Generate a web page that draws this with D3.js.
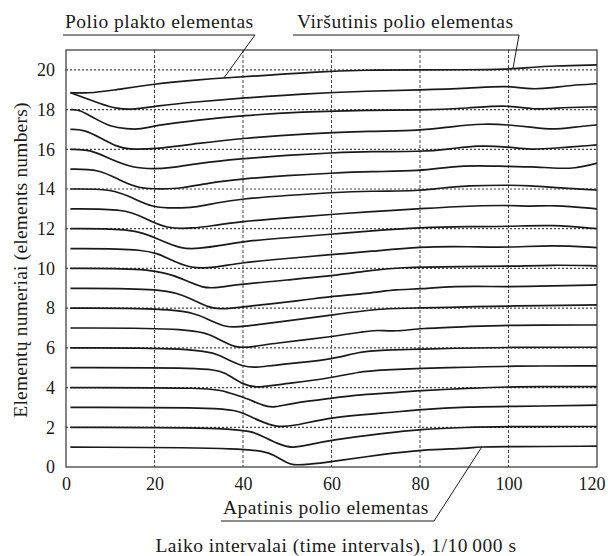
<!DOCTYPE html>
<html>
<head>
<meta charset="utf-8">
<script src="https://cdn.jsdelivr.net/npm/d3@7"></script>
<style>
  body { margin: 0; background: #fff; }
  text { font-family: "Liberation Serif", "Times New Roman", serif; fill: #1a1a1a; }
</style>
</head>
<body>
<div class="chart"></div>
<script>
var svgWidth = 608;
var svgHeight = 556;

var margin = { top: 50, right: 11, bottom: 89, left: 66 };
var width = svgWidth - margin.left - margin.right;
var height = svgHeight - margin.top - margin.bottom;

// tick values
var timeTicks = [0, 20, 40, 60, 80, 100, 120];
var elementTicks = [0, 2, 4, 6, 8, 10, 12, 14, 16, 18, 20];

// element curves: [time interval, element position]
var el01 = [[1,1],[43.5,0.97],[47,0.6],[50,0.2],[51,0.1],[54.8,0.12],[60,0.27],[72,0.65],[80,0.86],[91,0.94],[93,1.02],[100,1.02],[120,1.05]];
var el02 = [[1,2],[40,2],[44,1.6],[48,1.15],[51,0.94],[54.8,1.11],[60,1.36],[72,1.7],[80,1.9],[90,2.0],[100,2.04],[120,2.04]];
var el03 = [[1,3],[37,3],[40,2.71],[44,2.3],[47.2,2.03],[51,2.03],[60,2.53],[72,2.71],[80,2.9],[91,3.04],[100,3.04],[120,3.12]];
var el04 = [[1,4],[33.3,4],[35.9,3.79],[40,3.54],[45,3.04],[47,3.0],[51,3.21],[60,3.46],[66,3.63],[72,3.71],[80,3.85],[91,3.96],[100,4.05],[120,4.05]];
var el05 = [[1,5],[31.6,5],[35.9,4.8],[40,4.1],[44,4.0],[47,4.13],[60,4.47],[66,4.8],[72,4.89],[80,4.97],[91,5.02],[100,5.09],[120,5.09]];
var el06 = [[1,6],[31.6,6],[35.9,5.47],[40,5.05],[43,5.0],[47,5.14],[60,5.39],[66,5.81],[72,5.89],[80,5.93],[87,5.98],[100,6.03],[120,6.03]];
var el07 = [[1,7],[29.5,7],[34,6.5],[37.8,6.06],[40,5.98],[47,6.23],[60,6.56],[67.6,6.82],[70,6.9],[74.7,6.82],[80,6.99],[91,7.07],[100,7.15],[120,7.15]];
var el08 = [[1,8],[26.5,8],[32,7.45],[36.3,7.0],[40,7.07],[50,7.35],[60,7.66],[72,8.0],[80,8.0],[91,8.07],[100,8.11],[120,8.16]];
var el09 = [[1,9],[22.7,9],[28,8.5],[32.5,8.0],[35,7.95],[39.5,8.05],[54,8.41],[60,8.6],[68.7,8.75],[74.7,8.95],[80,8.95],[87,9.12],[100,9.07],[110,9.12],[120,9.17]];
var el10 = [[1,10],[20.4,10],[26,9.5],[31,9.0],[34,9.02],[39.3,9.2],[50,9.42],[60,9.62],[68.7,9.9],[74.7,10.05],[90,10.1],[100,10.1],[110,10.18],[120,10.13]];
var el11 = [[1,11],[18.6,11],[23,10.5],[28,10.0],[33.3,10.02],[39.5,10.3],[50,10.5],[60,10.7],[68.7,10.85],[80,11.1],[91,11.1],[100,11.05],[110,11.18],[120,11.05]];
var el12 = [[1,12],[15.6,12],[20.5,11.5],[26.1,10.97],[30,11.0],[35,11.15],[39.5,11.35],[50,11.55],[60,11.72],[68.7,11.89],[80,12.06],[91,12.11],[100,12.11],[110,12.2],[120,12.0]];
var el13 = [[1,13],[13.6,13],[18,12.5],[22.7,12.0],[28.8,12.02],[33,12.15],[39.5,12.36],[50,12.55],[60,12.72],[68.7,12.86],[80,13.0],[87,13.11],[100,13.2],[105,13.11],[110,13.2],[120,13.0]];
var el14 = [[1,14],[10.7,14],[15,13.55],[19.7,13.05],[25,13.04],[28.8,13.06],[34,13.3],[39.5,13.5],[50,13.68],[60,13.82],[68.7,13.9],[80,13.9],[84,14.04],[91,14.17],[100,14.2],[105,14.17],[110,14.07],[120,13.95]];
var el15 = [[1,15],[7.5,15],[12,14.45],[16.7,14.0],[22,14.0],[25.8,14.02],[32,14.3],[39.3,14.5],[50,14.68],[60,14.8],[68.7,14.88],[80,14.9],[87,15.13],[93,15.18],[100,15.13],[105,15.13],[110,15.05],[115,15.02],[120,15.3]];
var el16 = [[1,16],[5.4,16],[10,15.5],[15.2,15.05],[20,15.02],[22.7,15.03],[30,15.3],[39.3,15.52],[50,15.7],[60,15.82],[68.7,15.9],[80,15.87],[87,16.02],[93,16.2],[100,16.12],[105,15.97],[110,16.05],[120,16.22]];
var el17 = [[1,17],[4,17],[8,16.55],[11.4,16.14],[14,16.0],[19.7,16.0],[30,16.3],[40,16.56],[55,16.8],[68.7,16.92],[80,16.93],[87,17.14],[94.5,17.3],[100,17.23],[105,17.12],[110,16.98],[115,17.12],[120,17.23]];
var el18 = [[1,18],[3,18],[6.5,17.55],[10,17.14],[13.7,17.02],[17,17.0],[20,17.2],[30,17.48],[40,17.7],[53,17.88],[68.7,17.98],[80,17.96],[91,18.07],[100,18.24],[106,17.98],[110,18.08],[120,18.14]];
var el19 = [[1,18.85],[4,18.6],[7.7,18.3],[11.4,18.03],[15.6,18.0],[20,18.18],[30,18.4],[40,18.58],[53,18.79],[68.7,18.94],[80,18.99],[91,19.07],[100,19.22],[105,19.0],[110,19.1],[114,19.22],[120,19.3]];
var el20 = [[1,18.85],[5,18.82],[10,18.95],[20,19.3],[30,19.5],[36,19.6],[45,19.72],[55,19.88],[68,20.0],[80,20.0],[90,20.0],[100,20.03],[105,20.12],[110,20.2],[120,20.25]];

var curves = [el01, el02, el03, el04, el05, el06, el07, el08, el09, el10,
  el11, el12, el13, el14, el15, el16, el17, el18, el19, el20];

// annotation labels and the data point each one points at
var noteLabels = ["Polio plakto elementas", "Viršutinis polio elementas", "Apatinis polio elementas"];
var noteTargets = [[35.7, 19.6], [101, 20.05], [94, 1.02]];

var svg = d3.select(".chart")
  .append("svg")
  .attr("width", svgWidth)
  .attr("height", svgHeight);

var chartGroup = svg.append("g")
  .attr("transform", `translate(${margin.left}, ${margin.top})`);

var xScale = d3.scaleLinear().domain([0, 120]).range([0, width]);
var yScale = d3.scaleLinear().domain([0, 21]).range([height, 0]);

// dotted grid
chartGroup.append("g")
  .selectAll("line")
  .data(elementTicks.filter(d => d > 0))
  .enter()
  .append("line")
  .attr("x1", 0)
  .attr("x2", width)
  .attr("y1", d => yScale(d))
  .attr("y2", d => yScale(d))
  .attr("stroke", "#444")
  .attr("stroke-width", 1.2)
  .attr("stroke-dasharray", "2,2");

chartGroup.append("g")
  .selectAll("line")
  .data(timeTicks.filter(d => d > 0 && d < 120))
  .enter()
  .append("line")
  .attr("x1", d => xScale(d))
  .attr("x2", d => xScale(d))
  .attr("y1", 0)
  .attr("y2", height)
  .attr("stroke", "#444")
  .attr("stroke-width", 1)
  .attr("stroke-dasharray", "3,2");

// curves
var line = d3.line()
  .x(d => xScale(d[0]))
  .y(d => yScale(d[1]))
  .curve(d3.curveBasis);

chartGroup.append("g")
  .selectAll("path")
  .data(curves)
  .enter()
  .append("path")
  .attr("d", line)
  .attr("fill", "none")
  .attr("stroke", "#1a1a1a")
  .attr("stroke-width", 1.7);

// frame
chartGroup.append("rect")
  .attr("width", width)
  .attr("height", height)
  .attr("fill", "none")
  .attr("stroke", "#333")
  .attr("stroke-width", 1.2);

// axes
var bottomAxis = d3.axisBottom(xScale).tickValues(timeTicks).tickSize(0).tickPadding(10);
var leftAxis = d3.axisLeft(yScale).tickValues(elementTicks).tickSize(0).tickPadding(11);

var xAxis = chartGroup.append("g")
  .attr("transform", `translate(0, ${height})`)
  .call(bottomAxis);
var yAxis = chartGroup.append("g").call(leftAxis);

[xAxis, yAxis].forEach(function(ax) {
  ax.select(".domain").remove();
  ax.selectAll("text")
    .style("font-family", '"Liberation Serif", serif')
    .style("font-size", "18px")
    .attr("fill", "#1a1a1a");
});

// last time label sits inside the page edge
xAxis.selectAll("text")
  .filter(d => d === 120)
  .attr("text-anchor", "end")
  .attr("x", 8);

// axis titles
svg.append("text")
  .attr("x", 336)
  .attr("y", 552)
  .attr("text-anchor", "middle")
  .attr("fill", "#1a1a1a")
  .style("font-size", "19.5px")
  .style("letter-spacing", "0.5px")
  .text("Laiko intervalai (time intervals), 1/10\u2009000 s");

svg.append("text")
  .attr("transform", "rotate(-90)")
  .attr("x", -260)
  .attr("y", 27)
  .attr("text-anchor", "middle")
  .attr("fill", "#1a1a1a")
  .style("font-size", "19.5px")
  .style("letter-spacing", "0.2px")
  .text("Elementų numeriai (elements numbers)");

// annotations: text, underline, leader
var notePos = [
  { x: 65, y: 28, under: 35, lineFrom: 63, lineTo: 255 },
  { x: 297, y: 28, under: 35, lineFrom: 293, lineTo: 519 },
  { x: 223, y: 514, under: 521, lineFrom: 221, lineTo: 434 }
];

notePos.forEach(function(p, i) {
  svg.append("text")
    .attr("x", p.x)
    .attr("y", p.y)
    .attr("fill", "#1a1a1a")
    .style("font-size", "19.5px")
    .style("letter-spacing", "0.5px")
    .text(noteLabels[i]);

  svg.append("line")
    .attr("x1", p.lineFrom).attr("x2", p.lineTo)
    .attr("y1", p.under).attr("y2", p.under)
    .attr("stroke", "#1a1a1a").attr("stroke-width", 1);

  svg.append("line")
    .attr("x1", p.lineTo).attr("y1", p.under)
    .attr("x2", margin.left + xScale(noteTargets[i][0]))
    .attr("y2", margin.top + yScale(noteTargets[i][1]))
    .attr("stroke", "#1a1a1a").attr("stroke-width", 1);
});
</script>
</body>
</html>
